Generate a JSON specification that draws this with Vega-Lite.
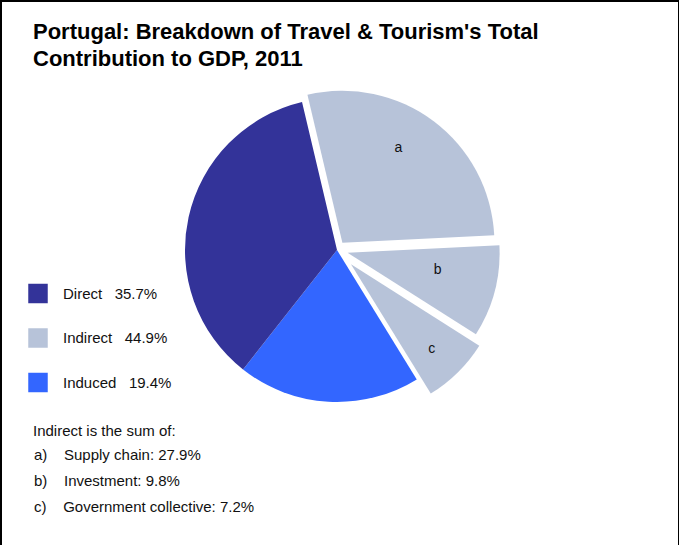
{
  "$schema": "https://vega.github.io/schema/vega-lite/v6.json",
  "width": 678,
  "height": 560,
  "padding": {"left": 1, "top": 1, "right": 0, "bottom": 0},
  "autosize": {"type": "none"},
  "background": "white",
  "config": {
    "view": {"stroke": null},
    "font": "Liberation Sans"
  },
  "title": {
    "text": ["Portugal: Breakdown of Travel & Tourism's Total", "Contribution to GDP, 2011"],
    "anchor": "start",
    "frame": "group",
    "orient": "top",
    "font": "Liberation Sans",
    "fontSize": 22,
    "fontWeight": "bold",
    "color": "black",
    "lineHeight": 27,
    "baseline": "top",
    "offset": 0,
    "dx": 32,
    "dy": 71
  },
  "data": {
    "values": [
      {"segment": "a", "group": "Indirect", "share": 27.9, "order": 1, "note": "a)\u00a0\u00a0\u00a0\u00a0Supply chain: 27.9%"},
      {"segment": "b", "group": "Indirect", "share": 9.8, "order": 2, "note": "b)\u00a0\u00a0\u00a0\u00a0Investment: 9.8%"},
      {"segment": "c", "group": "Indirect", "share": 7.2, "order": 3, "note": "c)\u00a0\u00a0\u00a0\u00a0Government collective: 7.2%"},
      {"segment": "Induced", "group": "Induced", "share": 19.4, "order": 4, "note": null},
      {"segment": "Direct", "group": "Direct", "share": 35.7, "order": 5, "note": null}
    ]
  },
  "transform": [
    {"window": [{"op": "sum", "field": "share", "as": "cum"}], "sort": [{"field": "order", "order": "ascending"}], "frame": [null, 0]},
    {"calculate": "datum.cum - datum.share", "as": "start"},
    {"calculate": "datum.cum - datum.share / 2", "as": "mid"}
  ],
  "layer": [
    {
      "data": {"values": [{"frame": "border"}]},
      "transform": [],
      "mark": {"type": "rect", "fill": null, "stroke": "black", "strokeWidth": 2},
      "encoding": {
        "x": {"value": 0},
        "x2": {"value": "width"},
        "y": {"value": 0},
        "y2": {"value": "height"}
      }
    },
    {
      "transform": [{"filter": "datum.group != 'Indirect'"}],
      "mark": {"type": "arc", "radius": 152, "xOffset": -3, "yOffset": -31},
      "encoding": {
        "theta": {"field": "start", "type": "quantitative", "stack": null, "scale": {"domain": [0, 100], "range": [-0.232, 6.051]}},
        "theta2": {"field": "cum"},
        "color": {
          "field": "group", "type": "nominal",
          "scale": {"domain": ["Direct", "Indirect", "Induced"], "range": ["#333399", "#b7c3d9", "#3366ff"]},
          "legend": {
            "orient": "none", "legendX": 27, "legendY": 282.5, "title": null,
            "symbolType": "square", "symbolSize": 380, "symbolStrokeWidth": 0, "symbolOpacity": 1,
            "labelFont": "Liberation Sans", "labelFontSize": 15, "labelColor": "#111111", "labelOffset": 15,
            "rowPadding": 24.5, "padding": 0, "labelLimit": 300,
            "labelExpr": "datum.label == 'Direct' ? 'Direct\u00a0\u00a0\u00a035.7%' : datum.label == 'Indirect' ? 'Indirect\u00a0\u00a0\u00a044.9%' : 'Induced\u00a0\u00a0\u00a019.4%'"
          }
        }
      }
    },
    {
      "transform": [{"filter": "datum.segment == 'a'"}],
      "mark": {"type": "arc", "radius": 152, "xOffset": 2.4, "yOffset": -38.2},
      "encoding": {
        "theta": {"field": "start", "type": "quantitative", "stack": null},
        "theta2": {"field": "cum"},
        "color": {"field": "group", "type": "nominal"}
      }
    },
    {
      "transform": [{"filter": "datum.segment == 'b'"}],
      "mark": {"type": "arc", "radius": 152, "xOffset": 7.6, "yOffset": -28.2},
      "encoding": {
        "theta": {"field": "start", "type": "quantitative", "stack": null},
        "theta2": {"field": "cum"},
        "color": {"field": "group", "type": "nominal"}
      }
    },
    {
      "transform": [{"filter": "datum.segment == 'c'"}],
      "mark": {"type": "arc", "radius": 152, "xOffset": 11, "yOffset": -16.8},
      "encoding": {
        "theta": {"field": "start", "type": "quantitative", "stack": null},
        "theta2": {"field": "cum"},
        "color": {"field": "group", "type": "nominal"}
      }
    },
    {
      "transform": [{"filter": "datum.segment == 'a'"}],
      "mark": {"type": "text", "radius": 110, "xOffset": 2.4, "yOffset": -38.2, "dx": -10, "dy": -7, "fontSize": 14, "color": "#111111", "font": "Liberation Sans"},
      "encoding": {
        "theta": {"field": "mid", "type": "quantitative", "stack": null},
        "text": {"field": "segment"}
      }
    },
    {
      "transform": [{"filter": "datum.segment == 'b'"}],
      "mark": {"type": "text", "radius": 92, "xOffset": 7.6, "yOffset": -28.2, "dx": 1, "dy": -6, "fontSize": 14, "color": "#111111", "font": "Liberation Sans"},
      "encoding": {
        "theta": {"field": "mid", "type": "quantitative", "stack": null},
        "text": {"field": "segment"}
      }
    },
    {
      "transform": [{"filter": "datum.segment == 'c'"}],
      "mark": {"type": "text", "radius": 115, "xOffset": 11, "yOffset": -16.8, "dy": 3, "fontSize": 14, "color": "#111111", "font": "Liberation Sans"},
      "encoding": {
        "theta": {"field": "mid", "type": "quantitative", "stack": null},
        "text": {"field": "segment"}
      }
    },
    {
      "transform": [{"filter": "datum.note != null"}],
      "mark": {"type": "point", "opacity": 0, "size": 0},
      "encoding": {
        "shape": {
          "field": "note", "type": "nominal",
          "legend": {
            "orient": "none", "legendX": 32, "legendY": 423,
            "title": "Indirect is the sum of:",
            "titleFont": "Liberation Sans", "titleFontSize": 15, "titleFontWeight": "normal", "titleColor": "#111111", "titlePadding": 8,
            "labelFont": "Liberation Sans", "labelFontSize": 15, "labelColor": "#111111", "labelOffset": -14, "labelLimit": 400,
            "symbolSize": 0.01, "symbolOpacity": 0, "symbolStrokeWidth": 0,
            "rowPadding": 10, "padding": 0
          }
        }
      }
    }
  ]
}
